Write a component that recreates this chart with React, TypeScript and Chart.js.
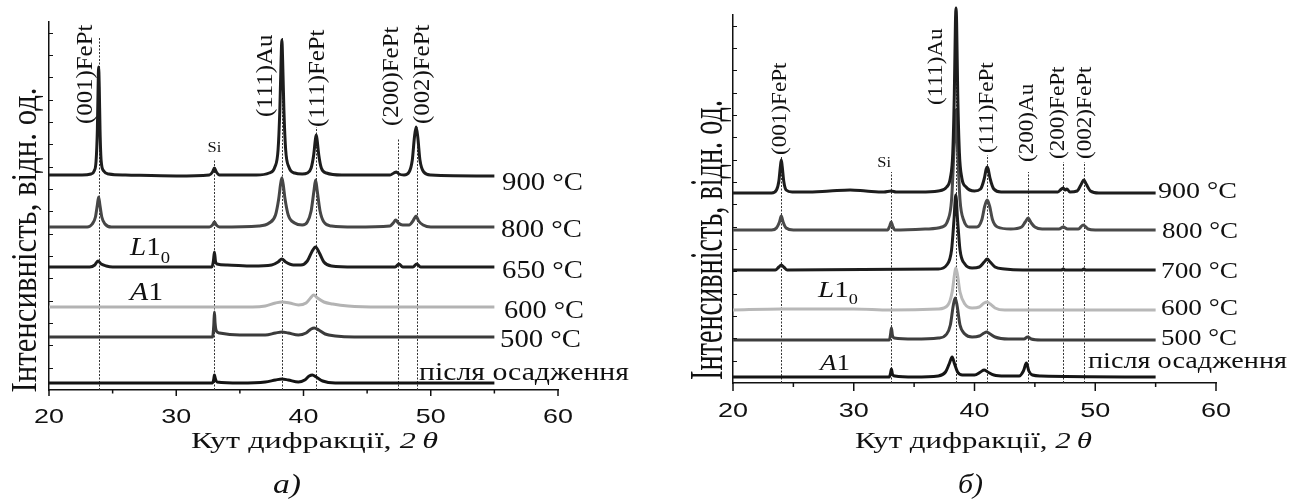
import React, { useEffect, useRef } from 'react';
import { Chart, registerables } from 'chart.js';

Chart.register(...registerables);

type Pt = [number, number];

// ---------- shared axis values ----------
const X_MIN = 20;
const X_MAX = 60;
const X_TICKS = [20, 25, 30, 35, 40, 45, 50, 55, 60];
const X_TICK_LABELS = ['20', '', '30', '', '40', '', '50', '', '60'];
const Y_MAX = 368; // intensity, arb. units
const Y_MINOR_STEP = 22.33;

const Y_TITLE = 'Інтенсивність, відн. од.';
const X_TITLE = 'Кут дифракції, ';
const X_TITLE_VAR = '2\u2009θ';

// ---------- panel а: diffraction patterns (2θ, intensity above own baseline) ----------
const samplesA = ['900 °C', '800 °C', '650 °C', '600 °C', '500 °C', 'після осадження'];
const offsetsA = [215, 163, 123, 83, 53, 7];
const colorsA = ['#1d1d1d', '#464646', '#1d1d1d', '#b3b3b3', '#3b3b3b', '#141414'];

const a900: Pt[] = [[20, 0], [22.6, 0], [23.3, 1], [23.55, 4], [23.7, 14], [23.8, 45], [23.86, 88], [23.9, 108], [23.95, 88], [24.01, 45], [24.1, 14], [24.3, 4], [24.7, 1], [26, 0], [30, -1], [32.6, 0], [32.85, 3], [33.0, 7], [33.15, 3], [33.4, 0], [36.3, 0], [37.3, 2], [37.75, 8], [38.0, 25], [38.14, 65], [38.24, 115], [38.3, 135], [38.36, 115], [38.46, 65], [38.6, 25], [38.85, 8], [39.3, 2], [39.9, 1], [40.3, 2], [40.6, 7], [40.8, 20], [40.93, 35], [41.0, 40], [41.07, 35], [41.2, 20], [41.4, 7], [41.8, 2], [43, 0], [46.8, 0], [47.1, 2], [47.3, 3], [47.5, 1], [47.9, 0], [48.3, 3], [48.55, 15], [48.72, 38], [48.85, 48], [48.98, 38], [49.15, 15], [49.45, 3], [50, 0], [55, -1]];
const a800: Pt[] = [[20, 0], [23.0, 0], [23.4, 3], [23.65, 10], [23.8, 22], [23.9, 30], [24.0, 22], [24.15, 10], [24.4, 3], [24.9, 0], [32.6, 0], [32.85, 2], [33.0, 5], [33.15, 2], [33.4, 0], [36.5, 1], [37.3, 4], [37.8, 12], [38.05, 28], [38.2, 43], [38.3, 49], [38.4, 43], [38.55, 28], [38.8, 12], [39.3, 4], [39.9, 2], [40.3, 5], [40.6, 16], [40.82, 36], [40.95, 47], [41.08, 36], [41.3, 16], [41.6, 5], [42.2, 1], [44, 0], [46.8, 1], [47.05, 4], [47.25, 7], [47.45, 4], [47.8, 2], [48.3, 2], [48.6, 6], [48.85, 11], [49.05, 6], [49.4, 2], [50, 0], [55, 0]];
const a650: Pt[] = [[20, 0], [23.2, 0], [23.6, 2], [23.85, 6], [24.1, 3], [24.5, 1], [25, 0], [32.8, 0], [32.92, 6], [33.0, 15], [33.08, 6], [33.2, 3], [34, 2], [36, 1], [37.5, 2], [38.0, 5], [38.3, 8], [38.6, 5], [39.2, 2], [39.8, 2], [40.3, 6], [40.65, 15], [40.95, 20], [41.25, 14], [41.6, 5], [42.2, 1], [44, 0], [47.2, 0], [47.5, 3], [47.8, 0], [48.6, 0], [48.9, 3], [49.2, 0], [55, 0]];
const a600: Pt[] = [[20, 0], [36, 0], [37.0, 1], [37.8, 4], [38.3, 5], [38.9, 4], [39.6, 2], [40.2, 4], [40.55, 9], [40.8, 12], [41.1, 9], [41.6, 5], [42.3, 3], [43.5, 1], [46, 0], [55, 0]];
const a500: Pt[] = [[20, 0], [32.85, 0], [32.95, 12], [33.0, 25], [33.05, 14], [33.15, 6], [33.4, 4], [35, 2], [37, 2], [37.8, 4], [38.3, 5], [38.8, 4], [39.6, 2], [40.2, 4], [40.6, 8], [40.85, 9], [41.2, 7], [41.7, 3], [42.5, 1], [44, 0], [55, 0]];
const aDep: Pt[] = [[20, 0], [32.85, 0], [32.95, 4], [33.0, 8], [33.08, 4], [33.2, 1], [35, 0], [37, 1], [37.8, 3], [38.3, 4], [38.8, 3], [39.6, 1], [40.1, 3], [40.45, 7], [40.7, 8], [41.0, 6], [41.5, 2], [42.5, 0], [55, 0]];

const peaksA = [23.9, 33.0, 38.3, 41.0, 47.45, 48.9];
const peakNamesA = ['(001)FePt', 'Si', '(111)Au', '(111)FePt', '(200)FePt', '(002)FePt'];

// ---------- panel б ----------
const samplesB = ['900 °C', '800 °C', '700 °C', '600 °C', '500 °C', 'після осадження'];
const offsetsB = [190, 153, 113, 73, 43, 6];
const colorsB = ['#1d1d1d', '#4a4a4a', '#1d1d1d', '#b8b8b8', '#3e3e3e', '#151515'];

const b900: Pt[] = [[20, 0], [23.2, 0], [23.6, 3], [23.8, 12], [23.92, 26], [24.0, 33], [24.08, 26], [24.2, 12], [24.4, 3], [24.9, 1], [26, 1], [28, 2], [29.7, 3], [31, 2], [32.5, 1], [33.1, 2], [33.5, 1], [35.5, 1], [37.0, 2], [37.7, 6], [38.0, 15], [38.2, 40], [38.33, 100], [38.42, 170], [38.47, 185], [38.52, 170], [38.61, 100], [38.75, 40], [38.95, 15], [39.3, 6], [40.0, 2], [40.5, 4], [40.8, 14], [40.97, 24], [41.05, 26], [41.13, 24], [41.3, 14], [41.6, 4], [42.2, 1], [44.5, 1], [46.9, 1], [47.2, 4], [47.35, 5], [47.5, 3], [47.65, 4], [47.9, 1], [48.5, 2], [48.85, 9], [49.05, 13], [49.25, 9], [49.6, 2], [50.3, 0], [55, 0]];
const b800: Pt[] = [[20, 0], [23.2, 0], [23.6, 2], [23.85, 8], [24.0, 14], [24.15, 8], [24.4, 2], [25, 0], [32.8, 0], [32.98, 4], [33.1, 8], [33.22, 4], [33.4, 0], [36, 1], [37.3, 3], [37.8, 10], [38.1, 30], [38.3, 80], [38.45, 120], [38.6, 80], [38.8, 30], [39.1, 10], [39.6, 3], [40.2, 3], [40.6, 10], [40.85, 24], [41.05, 30], [41.25, 24], [41.5, 10], [41.9, 3], [43, 1], [43.9, 3], [44.2, 8], [44.45, 12], [44.7, 7], [45.0, 3], [45.6, 1], [47.0, 1], [47.35, 3], [47.7, 1], [48.6, 1], [49.0, 5], [49.4, 1], [50, 0], [55, 0]];
const b700: Pt[] = [[20, 0], [23.5, 0], [23.8, 3], [24.0, 5], [24.2, 3], [24.5, 0], [37.0, 1], [37.7, 5], [38.1, 20], [38.3, 50], [38.45, 75], [38.6, 50], [38.8, 20], [39.2, 6], [39.8, 2], [40.4, 3], [40.8, 8], [41.05, 11], [41.3, 8], [41.7, 3], [42.5, 1], [44, 0], [47.2, 0], [47.35, 1], [47.5, 0], [48.9, 0], [49.05, 1], [49.2, 0], [55, 0]];
const b600: Pt[] = [[20, 0], [24, 1], [27, 1], [30, 1], [33, 0], [37.0, 1], [37.8, 5], [38.15, 18], [38.35, 36], [38.45, 42], [38.58, 36], [38.8, 18], [39.2, 6], [39.8, 2], [40.4, 3], [40.8, 7], [41.05, 8], [41.3, 6], [41.7, 2], [42.5, 0], [55, 0]];
const b500: Pt[] = [[20, 0], [32.95, 0], [33.05, 6], [33.12, 12], [33.2, 5], [33.35, 2], [35, 1], [37.0, 2], [37.7, 6], [38.0, 15], [38.25, 35], [38.4, 42], [38.55, 35], [38.8, 15], [39.2, 6], [39.8, 3], [40.4, 4], [40.8, 7], [41.0, 8], [41.3, 6], [41.7, 3], [42.8, 1], [44.1, 1], [44.4, 3], [44.7, 1], [45.5, 0], [55, 0]];
const bDep: Pt[] = [[20, 0], [32.95, 0], [33.05, 4], [33.12, 8], [33.2, 3], [33.4, 1], [35, 0], [37.0, 1], [37.6, 5], [37.9, 13], [38.15, 20], [38.35, 13], [38.6, 5], [39.0, 2], [40.0, 2], [40.5, 5], [40.8, 7], [41.1, 5], [41.6, 2], [42.5, 1], [43.7, 1], [44.05, 6], [44.3, 14], [44.5, 6], [44.8, 2], [45.5, 1], [55, 0]];

const peaksB = [24.0, 33.1, 38.45, 41.05, 44.46, 47.36, 49.07];
const peakNamesB = ['(001)FePt', 'Si', '(111)Au', '(111)FePt', '(200)Au', '(200)FePt', '(002)FePt'];

// ---------- layout / styling ----------
const H = 499;
const SERIF = '"Liberation Serif"';
const SANS = '"Liberation Sans"';

interface Box { x: number; y: number; w: number }
interface PanelSpec {
  key: string;
  left: number;
  width: number;
  padding: { left: number; right: number; top: number; bottom: number };
  series: Pt[][];
  offsets: number[];
  colors: string[];
  samples: string[];
  samplePos: Box[];
  sampleFont: number;
  peaks: number[];
  peakNames: string[];
  peakLineTop: number[];
  peakLabelDx: number[];
  peakLabelBase: number[];
  peakFont: number;
  peakSx: number;
  siFont: number;
  tick: { size: number; sx: number; baseline: number; major: number; minor: number };
  l10: Box;
  a1: Box;
  phaseFont: number;
  xTitle: Box;
  xTitleFont: number;
  yTitle: { x: number; y: number; len: number; font: number };
  caption: { text: string; x: number; y: number; font: number; w: number };
}

const panelA: PanelSpec = {
  key: 'a',
  left: 0,
  width: 640,
  padding: { left: 49, right: 82, top: 22, bottom: 109 },
  series: [a900, a800, a650, a600, a500, aDep],
  offsets: offsetsA,
  colors: colorsA,
  samples: samplesA,
  samplePos: [
    { x: 502, y: 190, w: 81 },
    { x: 501, y: 237, w: 81 },
    { x: 502, y: 278, w: 81 },
    { x: 504, y: 318, w: 80 },
    { x: 500, y: 347, w: 81 },
    { x: 419, y: 380, w: 210 },
  ],
  sampleFont: 25,
  peaks: peaksA,
  peakNames: peakNamesA,
  peakLineTop: [353, 231, 353, 263, 252, 263],
  peakLabelDx: [-13, 0, -16, 2, -6, 6],
  peakLabelBase: [266, 238, 273, 263, 264, 266],
  peakFont: 23,
  peakSx: 1.08,
  siFont: 15,
  tick: { size: 21, sx: 1.28, baseline: 423, major: 6, minor: 3.5 },
  l10: { x: 130, y: 255, w: 40 },
  a1: { x: 130, y: 300, w: 33 },
  phaseFont: 25,
  xTitle: { x: 191, y: 448, w: 247 },
  xTitleFont: 24,
  yTitle: { x: 36, y: 240, len: 305, font: 35 },
  caption: { text: 'а)', x: 273, y: 493, font: 27, w: 28 },
};

const panelB: PanelSpec = {
  key: 'b',
  left: 640,
  width: 657,
  padding: { left: 93, right: 81, top: 15, bottom: 116 },
  series: [b900, b800, b700, b600, b500, bDep],
  offsets: offsetsB,
  colors: colorsB,
  samples: samplesB,
  samplePos: [
    { x: 1158, y: 198, w: 79 },
    { x: 1162, y: 238, w: 76 },
    { x: 1161, y: 278, w: 77 },
    { x: 1161, y: 315, w: 77 },
    { x: 1161, y: 345, w: 76 },
    { x: 1088, y: 368, w: 199 },
  ],
  sampleFont: 24,
  peaks: peaksB,
  peakNames: peakNamesB,
  peakLineTop: [226, 211, 375, 228, 211, 221, 221],
  peakLabelDx: [-1, -7, -20, 0, -1, -5.5, 1],
  peakLabelBase: [228, 216, 278, 230, 221, 224, 224],
  peakFont: 22,
  peakSx: 1.05,
  siFont: 15,
  tick: { size: 20, sx: 1.35, baseline: 417, major: 8, minor: 4 },
  l10: { x: 818, y: 297, w: 40 },
  a1: { x: 820, y: 370, w: 30 },
  phaseFont: 24,
  xTitle: { x: 855, y: 448, w: 237 },
  xTitleFont: 24,
  yTitle: { x: 722, y: 240, len: 280, font: 46 },
  caption: { text: 'б)', x: 958, y: 493, font: 27, w: 25 },
};

// ---------- text helpers ----------
interface Run { t: string; italic?: boolean; sub?: boolean }

function drawRuns(
  ctx: CanvasRenderingContext2D,
  runs: Run[],
  x: number,
  y: number,
  size: number,
  family: string,
  opts: { width?: number; sx?: number; align?: 'left' | 'center'; rot?: number; baseline?: CanvasTextBaseline; color?: string } = {},
) {
  const fontOf = (r: Run) => `${r.italic ? 'italic ' : ''}${r.sub ? Math.round(size * 0.62) : size}px ${family}, serif`;
  ctx.save();
  const widths = runs.map((r) => {
    ctx.font = fontOf(r);
    return ctx.measureText(r.t).width;
  });
  const natural = widths.reduce((s, w) => s + w, 0);
  const sx = opts.width ? opts.width / natural : opts.sx ?? 1;
  ctx.translate(x, y);
  if (opts.rot) ctx.rotate(opts.rot);
  ctx.scale(sx, 1);
  ctx.fillStyle = opts.color ?? '#111';
  ctx.textAlign = 'left';
  ctx.textBaseline = opts.baseline ?? 'alphabetic';
  let cx = opts.align === 'center' ? -natural / 2 : 0;
  runs.forEach((r, i) => {
    ctx.font = fontOf(r);
    ctx.fillText(r.t, cx, r.sub ? size * 0.3 : 0);
    cx += widths[i];
  });
  ctx.restore();
}

function decorPlugin(spec: PanelSpec) {
  const L = spec.left;
  return {
    id: 'decor_' + spec.key,
    beforeDatasetsDraw(chart: any) {
      const { ctx, scales } = chart;
      const xs = scales.x;
      const ys = scales.y;
      ctx.save();
      ctx.strokeStyle = '#333';
      ctx.lineWidth = 1;
      ctx.setLineDash([2, 1.5]);
      spec.peaks.forEach((p, i) => {
        const px = Math.round(xs.getPixelForValue(p)) + 0.5;
        ctx.beginPath();
        ctx.moveTo(px, ys.getPixelForValue(0));
        ctx.lineTo(px, ys.getPixelForValue(spec.peakLineTop[i]));
        ctx.stroke();
      });
      ctx.restore();
    },
    afterDraw(chart: any) {
      const { ctx, scales, chartArea } = chart;
      const xs = scales.x;
      const ys = scales.y;
      ctx.save();
      ctx.strokeStyle = '#111';
      ctx.lineWidth = 1.5;
      // x ticks (outside)
      X_TICKS.forEach((v, i) => {
        const px = xs.getPixelForValue(v);
        const len = X_TICK_LABELS[i] ? spec.tick.major : spec.tick.minor;
        ctx.beginPath();
        ctx.moveTo(px, chartArea.bottom);
        ctx.lineTo(px, chartArea.bottom + len);
        ctx.stroke();
        if (X_TICK_LABELS[i]) {
          drawRuns(ctx, [{ t: X_TICK_LABELS[i] }], px, spec.tick.baseline, spec.tick.size, SANS, { sx: spec.tick.sx, align: 'center' });
        }
      });
      // y minor ticks (inside)
      ctx.lineWidth = 1;
      for (let v = Y_MINOR_STEP; v < Y_MAX; v += Y_MINOR_STEP) {
        const py = Math.round(ys.getPixelForValue(v)) + 0.5;
        ctx.beginPath();
        ctx.moveTo(chartArea.left, py);
        ctx.lineTo(chartArea.left + 4, py);
        ctx.stroke();
      }
      ctx.restore();

      // peak labels
      spec.peakNames.forEach((name, i) => {
        const px = xs.getPixelForValue(spec.peaks[i]) + spec.peakLabelDx[i];
        const py = ys.getPixelForValue(spec.peakLabelBase[i]);
        if (name === 'Si') {
          drawRuns(ctx, [{ t: name }], px, py, spec.siFont, SERIF, { align: 'center', sx: 1.1 });
        } else {
          drawRuns(ctx, [{ t: name }], px, py, spec.peakFont, SERIF, { sx: spec.peakSx, rot: -Math.PI / 2, baseline: 'middle' });
        }
      });

      // sample (annealing) labels
      spec.samples.forEach((s, i) => {
        const p = spec.samplePos[i];
        drawRuns(ctx, [{ t: s }], p.x - L, p.y, spec.sampleFont, SERIF, { width: p.w });
      });

      // phase labels
      drawRuns(ctx, [{ t: 'L', italic: true }, { t: '1' }, { t: '0', sub: true }], spec.l10.x - L, spec.l10.y, spec.phaseFont, SERIF, { width: spec.l10.w });
      drawRuns(ctx, [{ t: 'A', italic: true }, { t: '1' }], spec.a1.x - L, spec.a1.y, spec.phaseFont, SERIF, { width: spec.a1.w });

      // axis titles
      drawRuns(ctx, [{ t: X_TITLE }, { t: X_TITLE_VAR, italic: true }], spec.xTitle.x - L, spec.xTitle.y, spec.xTitleFont, SERIF, { width: spec.xTitle.w });
      drawRuns(ctx, [{ t: Y_TITLE }], spec.yTitle.x - L, spec.yTitle.y, spec.yTitle.font, SERIF, { width: spec.yTitle.len, rot: -Math.PI / 2, align: 'center' });

      // panel caption
      drawRuns(ctx, [{ t: spec.caption.text, italic: true }], spec.caption.x - L, spec.caption.y, spec.caption.font, SERIF, { width: spec.caption.w });
    },
  };
}

const FONT_PROBES = ['20px "Liberation Serif"', 'italic 20px "Liberation Serif"', '20px "Liberation Sans"'];

function Panel({ spec }: { spec: PanelSpec }) {
  const ref = useRef<HTMLCanvasElement>(null);
  useEffect(() => {
    const canvas = ref.current;
    if (!canvas) return;
    let alive = true;
    const chart = new Chart(canvas, {
      type: 'line',
      data: {
        datasets: spec.series.map((pts, i) => ({
          label: spec.samples[i],
          data: pts.map(([x, y]) => ({ x, y: y + spec.offsets[i] })),
          borderColor: spec.colors[i],
          borderWidth: 3,
          pointRadius: 0,
          fill: false,
          cubicInterpolationMode: 'monotone' as const,
          clip: false as any,
        })),
      },
      options: {
        responsive: false,
        animation: false,
        devicePixelRatio: 1,
        events: [],
        layout: { padding: spec.padding },
        plugins: { legend: { display: false }, tooltip: { enabled: false }, title: { display: false } },
        scales: {
          x: {
            type: 'linear',
            min: X_MIN,
            max: X_MAX,
            grid: { display: false },
            ticks: { display: false },
            border: { display: true, color: '#111', width: 1.5 },
            afterFit: (s: any) => {
              s.height = 0;
            },
          },
          y: {
            type: 'linear',
            min: 0,
            max: Y_MAX,
            grid: { display: false },
            ticks: { display: false },
            border: { display: true, color: '#111', width: 1.5 },
            afterFit: (s: any) => {
              s.width = 0;
            },
          },
        },
      },
      plugins: [decorPlugin(spec)],
    });
    // redraw once the installed fonts are ready so the text uses them
    if (document.fonts) {
      Promise.all(FONT_PROBES.map((f) => document.fonts.load(f)))
        .catch(() => undefined)
        .then(() => {
          if (alive) chart.draw();
        });
    }
    return () => {
      alive = false;
      chart.destroy();
    };
  }, [spec]);
  return (
    <canvas
      ref={ref}
      width={spec.width}
      height={H}
      style={{ position: 'absolute', left: spec.left, top: 0, width: spec.width, height: H }}
    />
  );
}

export default function App() {
  return (
    <div style={{ position: 'fixed', left: 0, top: 0, width: 1297, height: H, background: '#fff', overflow: 'hidden' }}>
      <span style={{ position: 'absolute', left: -9999, fontFamily: '"Liberation Serif"' }}>
        а <i>а</i> <span style={{ fontFamily: '"Liberation Sans"' }}>0</span>
      </span>
      <Panel spec={panelA} />
      <Panel spec={panelB} />
    </div>
  );
}
